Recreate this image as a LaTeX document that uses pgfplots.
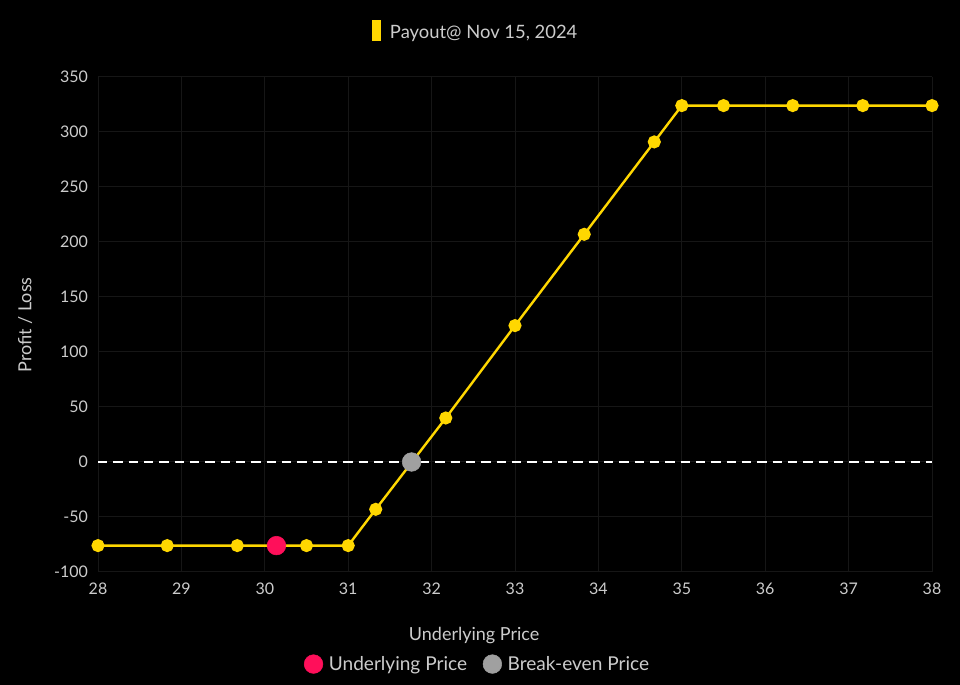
\documentclass[border=0pt]{standalone}
\usepackage{pgfplots}
\pgfplotsset{compat=1.18}
\usepackage{fontspec}
\setmainfont{Lato}
\definecolor{bg}{HTML}{000000}
\definecolor{txt}{HTML}{CCCCCC}
\definecolor{gold}{HTML}{FFD700}
\definecolor{pinkred}{HTML}{FF0F5A}
\definecolor{brk}{HTML}{A0A0A0}
\definecolor{gridc}{HTML}{161616}
\begin{document}
\begin{tikzpicture}
\fill[bg] (0pt,0pt) rectangle (720pt,513.75pt);
\path[use as bounding box] (0pt,0pt) rectangle (720pt,513.75pt);
\node[text=txt, font=\fontsize{13.8}{16}\selectfont, anchor=center] at (356pt,490.5pt)
  {\textcolor{gold}{\rule[-2pt]{6.5pt}{16pt}}\hspace{7pt}Payout@ Nov 15, 2024};
\begin{axis}[
  at={(73.5pt,84.75pt)}, anchor=south west,
  width=625.5pt, height=371.25pt, scale only axis,
  xmin=28, xmax=38, ymin=-100, ymax=350,
  xtick={28,29,...,38}, ytick={-100,-50,...,350},
  grid=major, major grid style={gridc, line width=0.75pt},
  axis line style={draw=none},
  tick style={draw=none},
  /pgf/number format/assume math mode=true,
  ticklabel style={text=txt, font=\fontsize{12}{14}\selectfont},
  xticklabel style={yshift=-5pt},
  yticklabel style={xshift=-4pt},
  xlabel={Underlying Price}, ylabel={Profit / Loss},
  label style={text=txt, font=\fontsize{13.5}{15}\selectfont},
  xlabel style={at={(axis description cs:0.451,-0.129)}, anchor=center},
  ylabel style={at={(axis description cs:-0.0875,0.499)}, anchor=center, rotate=0},
  legend columns=2,
  legend style={at={(axis description cs:0.4556,-0.186)}, anchor=center,
    draw=none, fill=none, text=txt, font=\fontsize{14.3}{16}\selectfont,
    /tikz/every odd column/.append style={column sep=2.5pt},
    /tikz/every even column/.append style={column sep=10pt}},
  legend cell align=left,
  clip=false,
]
\addplot[white, line width=1.5pt, dash pattern=on 7pt off 4.5pt, forget plot] coordinates {(28,0) (38,0)};
\addplot[gold, line width=1.8pt, mark=*, mark size=4pt, mark options={fill=gold, draw=gold}, forget plot] coordinates {
(28,-76) (28.83,-76) (29.67,-76) (30.5,-76) (31,-76) (31.33,-43) (32.17,40) (33,124) (33.83,207) (34.67,291) (35,324) (35.5,324) (36.33,324) (37.17,324) (38,324)};
\addplot[only marks, mark=*, mark size=7pt, mark options={fill=pinkred, draw=pinkred}] coordinates {(30.14,-76)};
\addlegendentry{Underlying Price}
\addplot[only marks, mark=*, mark size=7pt, mark options={fill=brk, draw=brk}] coordinates {(31.76,0)};
\addlegendentry{Break-even Price}
\end{axis}
\end{tikzpicture}
\end{document}
